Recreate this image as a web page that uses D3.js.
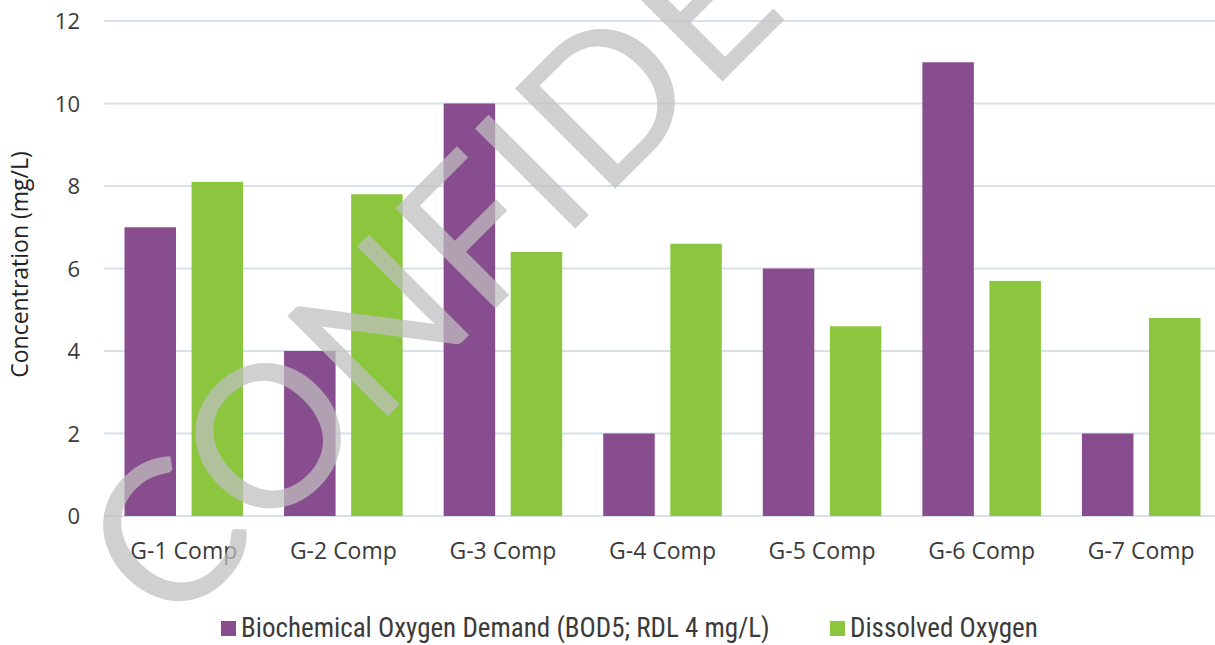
<!DOCTYPE html>
<html>
<head>
<meta charset="utf-8">
<script src="https://cdn.jsdelivr.net/npm/d3@7"></script>
<style>
  html, body { margin: 0; padding: 0; background: #fff; }
  svg { display: block; }
</style>
</head>
<body>
<svg id="chart" width="1215" height="645"></svg>
<script>
// Sample sites and measured concentrations (mg/L)
const categories = ["G-1 Comp", "G-2 Comp", "G-3 Comp", "G-4 Comp", "G-5 Comp", "G-6 Comp", "G-7 Comp"];
const bodValues = [7, 4, 10, 2, 6, 11, 2];
const doValues = [8.1, 7.8, 6.4, 6.6, 4.6, 5.7, 4.8];
const seriesNames = ["Biochemical Oxygen Demand (BOD5; RDL 4 mg/L)", "Dissolved Oxygen"];
const seriesColors = ["#884d8f", "#8cc63f"];
const yTicks = [0, 2, 4, 6, 8, 10, 12];
const yTitle = "Concentration (mg/L)";
const watermarkText = "CONFIDENTIAL";

const svg = d3.select("#chart");
const plot = { left: 104, right: 1221, top: 21, bottom: 516 };

const x = d3.scaleBand().domain(categories).range([plot.left, plot.right]).paddingInner(0).paddingOuter(0);
const y = d3.scaleLinear().domain([0, 12]).range([plot.bottom, plot.top]);

const series = seriesNames.map((name, i) => ({
  name, color: seriesColors[i], values: i === 0 ? bodValues : doValues
}));

// Position of each bar inside a category band
const xInner = d3.scaleBand().domain(d3.range(series.length))
  .range([20.5, x.bandwidth() - 20.5]).paddingInner(0.232);

const labelColor = "#3b3b3b";
const labelFont = "'Open Sans', 'Noto Sans', sans-serif";

// Horizontal grid lines
svg.append("g")
  .selectAll("line")
  .data(yTicks)
  .join("line")
  .attr("x1", plot.left).attr("x2", 1215)
  .attr("y1", d => y(d)).attr("y2", d => y(d))
  .attr("stroke", "#d8e1ea").attr("stroke-width", 2);

// Y axis tick labels
const yAxis = d3.axisLeft(y).tickValues(yTicks).tickSize(0).tickPadding(0).tickFormat(d3.format("d"));
const yg = svg.append("g").attr("transform", `translate(80,0)`).call(yAxis);
yg.select(".domain").remove();
yg.selectAll("text")
  .attr("font-family", labelFont)
  .attr("font-size", 22)
  .attr("fill", labelColor)
  .attr("dy", "0.36em");

// Y axis title
svg.append("text")
  .attr("transform", `translate(28,${(plot.top + plot.bottom) / 2 - 4}) rotate(-90)`)
  .attr("text-anchor", "middle")
  .attr("font-family", labelFont)
  .attr("font-size", 23)
  .attr("fill", "#222")
  .text(yTitle);

// Bars
const groups = svg.append("g")
  .selectAll("g")
  .data(categories)
  .join("g")
  .attr("transform", d => `translate(${x(d)},0)`);

groups.selectAll("rect")
  .data((c, ci) => series.map((s, si) => ({ si, value: s.values[ci], color: s.color })))
  .join("rect")
  .attr("x", d => xInner(d.si))
  .attr("width", xInner.bandwidth())
  .attr("y", d => y(d.value))
  .attr("height", d => y(0) - y(d.value))
  .attr("fill", d => d.color);

// X axis category labels
const xAxis = d3.axisBottom(x).tickSize(0).tickPadding(0);
const xg = svg.append("g").attr("transform", `translate(0,${plot.bottom})`).call(xAxis);
xg.select(".domain").remove();
xg.selectAll("text")
  .attr("font-family", labelFont)
  .attr("font-size", 23)
  .attr("fill", labelColor)
  .attr("dy", 0)
  .attr("y", 43);

// Legend
const legendFont = "'Liberation Sans Narrow', 'Roboto Condensed', 'Open Sans', sans-serif";
const legendItems = [
  { x: 221, text: seriesNames[0], color: seriesColors[0] },
  { x: 830, text: seriesNames[1], color: seriesColors[1] }
];
const lg = svg.append("g")
  .selectAll("g")
  .data(legendItems)
  .join("g")
  .attr("transform", d => `translate(${d.x},621)`);
lg.append("rect").attr("width", 15).attr("height", 15).attr("fill", d => d.color);
lg.append("text")
  .attr("x", 20).attr("y", 16)
  .attr("font-family", legendFont)
  .attr("font-size", 27)
  .attr("fill", labelColor)
  .text(d => d.text);

// Diagonal watermark over the chart
svg.append("text")
  .attr("transform", "translate(170,634) rotate(-45)")
  .attr("font-family", "Lato, 'Open Sans', sans-serif")
  .attr("font-weight", 400)
  .attr("font-size", 198)
  .attr("letter-spacing", 1)
  .attr("fill", "rgb(190,190,190)")
  .attr("fill-opacity", 0.73)
  .text(watermarkText);
</script>
</body>
</html>
